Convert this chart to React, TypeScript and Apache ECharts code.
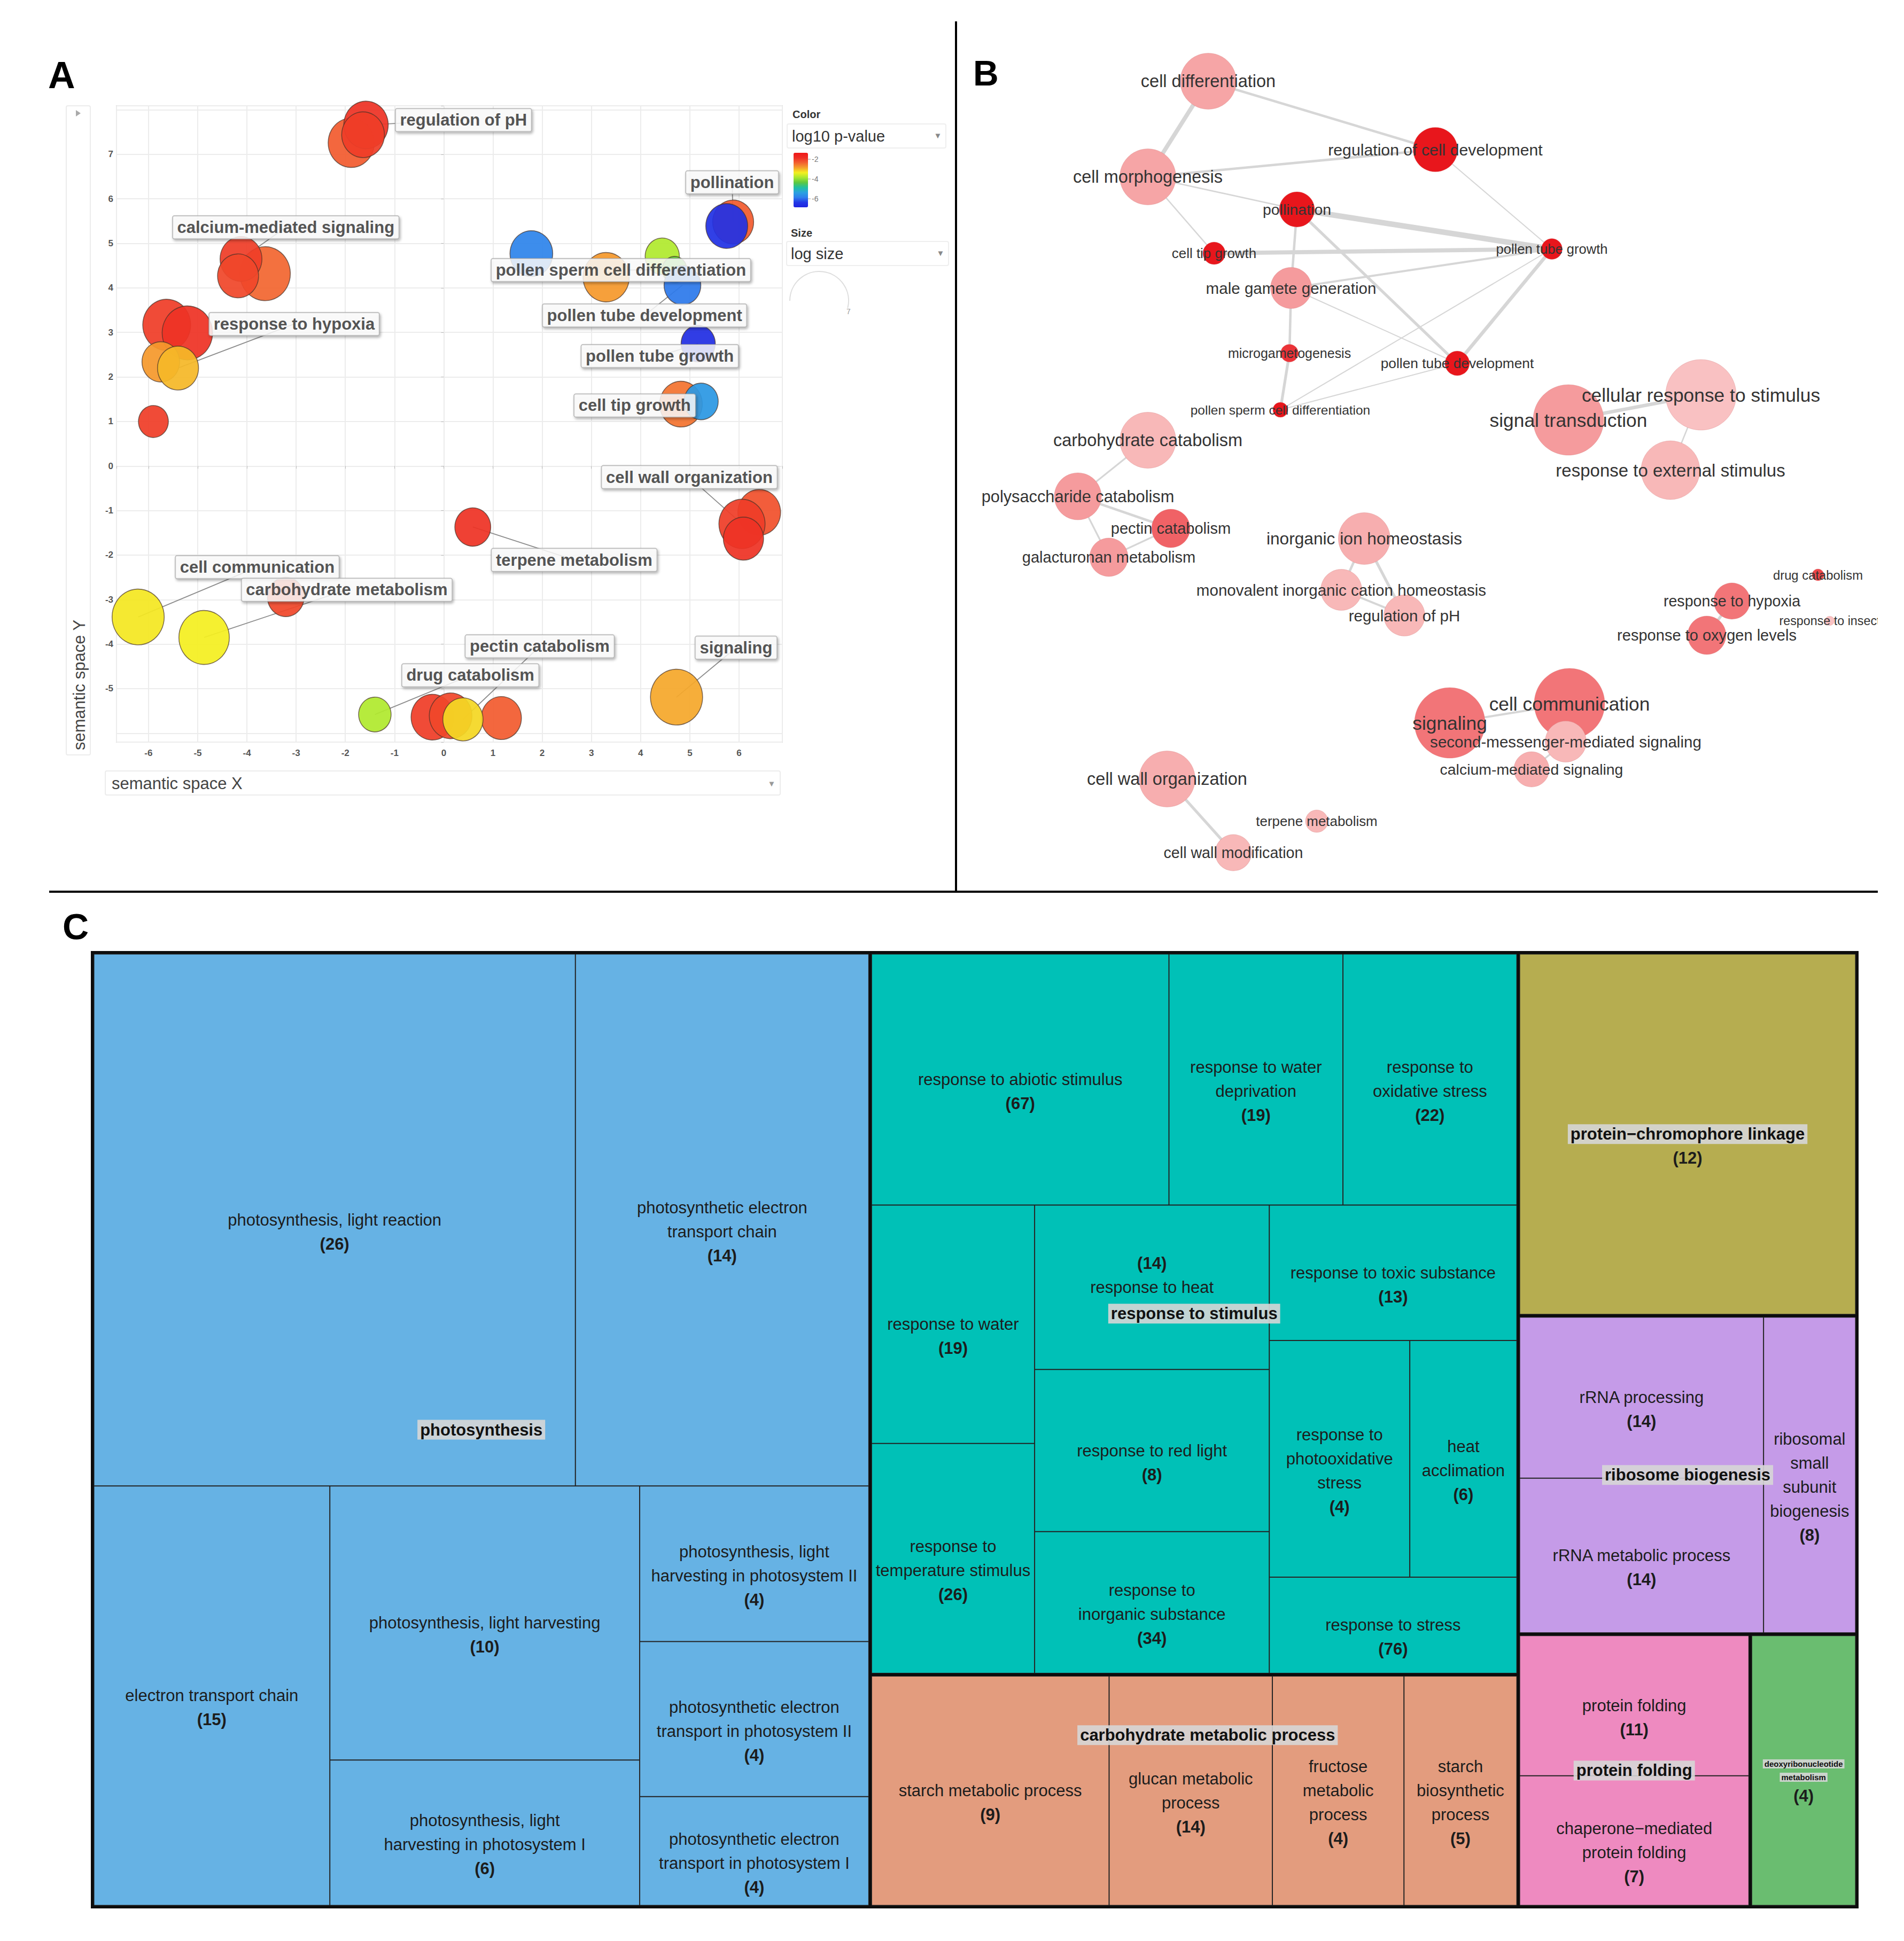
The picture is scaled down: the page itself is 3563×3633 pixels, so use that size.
import React, { useEffect, useRef } from "react";
import * as echarts from "echarts";

// ================= Panel A : REVIGO semantic scatter =================
const bubbleX = [-1.88, -1.58, -1.64, 5.88, 5.75, -3.63, -4.12, -4.18, 1.78, 3.3, 4.44, 4.69, 4.85, 5.17, 4.82, 5.23, -5.63, -5.21, -5.75, -5.4, -5.9, 6.41, 6.06, 6.09, 0.59, -3.21, -6.21, -4.87, 4.73, -1.4, 1.17, -0.23, 0.14, 0.39];
const bubbleY = [7.26, 7.66, 7.44, 5.48, 5.39, 4.32, 4.65, 4.27, 4.77, 4.24, 4.71, 4.41, 4.06, 2.75, 1.39, 1.45, 3.17, 2.99, 2.34, 2.2, 1.0, -1.04, -1.3, -1.63, -1.37, -2.94, -3.39, -3.85, -5.19, -5.58, -5.66, -5.64, -5.61, -5.69];
const bubbleLogP = [-2.3, -1.9, -2.0, -2.3, -6.5, -2.4, -2.0, -2.1, -5.8, -2.8, -3.8, -4.3, -5.9, -6.6, -2.5, -5.5, -2.0, -1.9, -2.8, -3.0, -2.0, -2.2, -2.0, -1.9, -1.9, -2.1, -3.3, -3.35, -2.9, -3.8, -2.3, -2.0, -2.1, -3.2];
const bubbleLogSize = [2.7, 2.6, 2.5, 2.4, 2.45, 2.95, 2.45, 2.4, 2.5, 2.7, 2.0, 1.45, 2.15, 2.0, 2.5, 2.0, 2.8, 2.95, 2.2, 2.4, 1.75, 2.5, 2.7, 2.35, 2.1, 2.15, 3.05, 2.95, 3.05, 1.9, 2.35, 2.5, 2.5, 2.35];

const labelNames = ["regulation of pH", "pollination", "calcium-mediated signaling", "pollen sperm cell differentiation", "response to hypoxia", "pollen tube development", "pollen tube growth", "cell tip growth", "cell wall organization", "terpene metabolism", "cell communication", "carbohydrate metabolism", "pectin catabolism", "drug catabolism", "signaling"];
const labelX = [0.4, 5.86, -3.21, 3.6, -3.04, 4.08, 4.39, 3.88, 4.99, 2.65, -3.79, -1.97, 1.95, 0.54, 5.94];
const labelY = [7.77, 6.37, 5.36, 4.4, 3.19, 3.38, 2.47, 1.36, -0.25, -2.11, -2.27, -2.78, -4.05, -4.7, -4.08];
const labelTarget = [1, 3, 6, 11, 19, 12, 13, 15, 22, 24, 26, 27, 33, 29, 28];

const colorTicks = [-2, -4, -6];

// ================= Panel B : similarity network =================
const nodeNames = ["cell differentiation", "regulation of cell development", "cell morphogenesis", "pollination", "cell tip growth", "pollen tube growth", "male gamete generation", "microgametogenesis", "pollen tube development", "pollen sperm cell differentiation", "cellular response to stimulus", "signal transduction", "response to external stimulus", "carbohydrate catabolism", "polysaccharide catabolism", "pectin catabolism", "galacturonan metabolism", "inorganic ion homeostasis", "monovalent inorganic cation homeostasis", "regulation of pH", "drug catabolism", "response to hypoxia", "response to insect", "response to oxygen levels", "signaling", "cell communication", "second-messenger-mediated signaling", "calcium-mediated signaling", "cell wall organization", "terpene metabolism", "cell wall modification"];
const nodeX = [461, 886, 348, 627, 472, 1104, 616, 613, 927, 596, 1383, 1135, 1326, 348, 217, 391, 275, 753, 710, 828, 1602, 1441, 1624, 1394, 913, 1137, 1130, 1066, 384, 664, 508];
const nodeY = [152, 280, 331, 392, 474, 466, 539, 661, 680, 767, 739, 786, 880, 824, 929, 989, 1043, 1008, 1104, 1152, 1076, 1125, 1162, 1189, 1353, 1317, 1388, 1440, 1458, 1537, 1596];
const nodeLogSize = [3.18, 2.52, 3.18, 2.0, 1.27, 1.18, 2.33, 1.0, 1.39, 0.85, 4.0, 4.0, 3.33, 3.18, 2.67, 2.18, 2.18, 2.94, 2.33, 2.33, 0.67, 2.06, 0.52, 2.18, 4.0, 4.0, 2.33, 2.0, 3.18, 1.27, 2.06];
const nodeSignificance = [0.25, 1, 0.25, 1, 1, 1, 0.3, 0.85, 1, 1, 0.1, 0.3, 0.15, 0.15, 0.3, 0.6, 0.3, 0.2, 0.15, 0.15, 0.75, 0.5, 0.1, 0.5, 0.5, 0.5, 0.15, 0.2, 0.2, 0.15, 0.15];

const edgeSource = ["cell differentiation", "cell differentiation", "cell morphogenesis", "cell morphogenesis", "cell morphogenesis", "regulation of cell development", "pollination", "pollination", "pollination", "cell tip growth", "male gamete generation", "male gamete generation", "male gamete generation", "pollen tube growth", "pollen tube growth", "microgametogenesis", "pollen sperm cell differentiation", "signal transduction", "cellular response to stimulus", "carbohydrate catabolism", "polysaccharide catabolism", "polysaccharide catabolism", "pectin catabolism", "inorganic ion homeostasis", "inorganic ion homeostasis", "monovalent inorganic cation homeostasis", "cell wall organization", "response to hypoxia", "cell communication", "second-messenger-mediated signaling", "signaling"];
const edgeTarget = ["cell morphogenesis", "regulation of cell development", "regulation of cell development", "pollination", "cell tip growth", "pollen tube growth", "pollen tube growth", "male gamete generation", "pollen tube development", "pollen tube growth", "pollen tube growth", "microgametogenesis", "pollen tube development", "pollen tube development", "pollen sperm cell differentiation", "pollen sperm cell differentiation", "pollen tube development", "cellular response to stimulus", "response to external stimulus", "polysaccharide catabolism", "pectin catabolism", "galacturonan metabolism", "galacturonan metabolism", "monovalent inorganic cation homeostasis", "regulation of pH", "regulation of pH", "cell wall modification", "response to oxygen levels", "second-messenger-mediated signaling", "calcium-mediated signaling", "cell communication"];
const edgeWeight = [6, 3.5, 3.5, 2, 2, 1.5, 8, 3.5, 4, 6, 3, 3.5, 1.5, 5, 1.5, 4, 1.5, 5, 2, 2.5, 3.5, 2.5, 2.5, 3.5, 4, 3, 4, 4, 2, 2.5, 3];

// ================= Panel C : treemap =================
const groupNames = ["photosynthesis", "response to stimulus", "carbohydrate metabolic process", "protein\u2212chromophore linkage", "ribosome biogenesis", "protein folding", "deoxyribonucleotide\nmetabolism"];
const leafNames = [
  "photosynthesis, light reaction", "photosynthetic electron\ntransport chain", "electron transport chain", "photosynthesis, light harvesting",
  "photosynthesis, light\nharvesting in photosystem I", "photosynthesis, light\nharvesting in photosystem II", "photosynthetic electron\ntransport in photosystem II", "photosynthetic electron\ntransport in photosystem I",
  "response to abiotic stimulus", "response to water\ndeprivation", "response to\noxidative stress", "response to water", "response to\ntemperature stimulus",
  "response to heat", "response to red light", "response to\ninorganic substance", "response to toxic substance", "response to\nphotooxidative\nstress", "heat\nacclimation", "response to stress",
  "starch metabolic process", "glucan metabolic\nprocess", "fructose\nmetabolic\nprocess", "starch\nbiosynthetic\nprocess",
  "protein\u2212chromophore linkage",
  "rRNA processing", "rRNA metabolic process", "ribosomal\nsmall\nsubunit\nbiogenesis",
  "protein folding", "chaperone\u2212mediated\nprotein folding",
  "deoxyribonucleotide\nmetabolism",
];
const leafCounts = [26, 14, 15, 10, 6, 4, 4, 4, 67, 19, 22, 19, 26, 14, 8, 34, 13, 4, 6, 76, 9, 14, 4, 5, 12, 14, 14, 8, 11, 7, 4];
const leafValues = [907.8, 553.1, 350.8, 300.8, 159.7, 126.3, 125.9, 88.4, 265, 155, 155, 138, 133, 137, 135, 118, 119, 118, 90, 84.5, 195, 134, 108, 92.7, 433.1, 140.6, 135.1, 104.1, 115.7, 107.0, 102.4];
const leafGroup = [0, 0, 0, 0, 0, 0, 0, 0, 1, 1, 1, 1, 1, 1, 1, 1, 1, 1, 1, 1, 2, 2, 2, 2, 3, 4, 4, 4, 5, 5, 6];

// nesting of the treemap: numbers are leaf indices, g marks a GO group
type TNode = number | { g?: number; kids: TNode[] };
const treeShape: TNode[] = [
  { g: 0, kids: [{ kids: [0, 1] }, { kids: [2, { kids: [3, 4] }, { kids: [5, 6, 7] }] }] },
  {
    kids: [
      {
        kids: [
          { g: 1, kids: [{ kids: [8, 9, 10] }, { kids: [{ kids: [11, 12] }, { kids: [{ kids: [13, 14, 15] }, { kids: [16, { kids: [17, 18] }, 19] }] }] }] },
          { g: 2, kids: [20, 21, 22, 23] },
        ],
      },
      {
        kids: [
          { g: 3, kids: [24] },
          { g: 4, kids: [{ kids: [25, 26] }, 27] },
          { kids: [{ g: 5, kids: [28, 29] }, { g: 6, kids: [30] }] },
        ],
      },
    ],
  },
];

// ================= styles =================
const FONT = "'Liberation Sans', Arial, Helvetica, sans-serif";
const GROUP_COLORS = ["#66b2e4", "#00c1b7", "#e39c7e", "#b6ad50", "#c59be8", "#ee8ac0", "#6abd70"];
const GROUP_LABEL_SMALL = [false, false, false, false, false, false, true];
const GROUP_LABEL_SHIFT: Record<number, [number, number]> = { 2: [25, -104] };
const COUNT_ABOVE = new Set([13]);
const LH = 45;
const LH_SMALL = 25;
const LH_GROUP = 40;
const VM_MIN = -6.86;
const VM_MAX = -1.35;
const VM_TOP = 286;
const VM_H = 102;

function mixColor(t: number) {
  const a = [251, 212, 212];
  const b = [232, 22, 28];
  const c = a.map((v, i) => Math.round(v + (b[i] - v) * t));
  return `rgb(${c[0]},${c[1]},${c[2]})`;
}

function sumLeaves(t: TNode): number {
  if (typeof t === "number") return leafValues[t];
  return t.kids.reduce((s, k) => s + sumLeaves(k), 0);
}

function leafItem(i: number) {
  const g = leafGroup[i];
  const lines = leafNames[i].split("\n");
  const k = lines.length;
  const groupSize = leafGroup.filter((x) => x === g).length;
  const hidden = leafNames[i] === groupNames[g] && groupSize === 1;
  const small = hidden && GROUP_LABEL_SMALL[g];
  const st = hidden ? (small ? "ns" : "nh") : "n";
  const lh = small ? LH_SMALL : LH;
  let text: string;
  let dy: number;
  if (COUNT_ABOVE.has(i)) {
    text = `{c|(${leafCounts[i]})}\n` + lines.map((l) => `{${st}|${l}}`).join("\n");
    dy = -(LH + (k * lh) / 2);
  } else {
    text = lines.map((l) => `{${st}|${l}}`).join("\n") + `\n{c|(${leafCounts[i]})}`;
    dy = -(k * lh) / 2;
  }
  return {
    name: leafNames[i].replace(/\n/g, " "),
    value: leafValues[i],
    itemStyle: { color: GROUP_COLORS[g], borderColor: "#262626", borderWidth: 1, gapWidth: 0 },
    label: { formatter: text, offset: [0, dy] },
  };
}

function buildLeaves(t: TNode): any {
  if (typeof t === "number") return leafItem(t);
  const children = t.kids.map(buildLeaves);
  const value = sumLeaves(t);
  if (t.g != null) {
    return { name: groupNames[t.g].replace(/\n/g, " "), value, children, itemStyle: { color: GROUP_COLORS[t.g], borderColor: "#0d0d0d", borderWidth: 2.5, gapWidth: 0 } };
  }
  return { name: "", value, children, itemStyle: { color: "#0d0d0d", borderColor: "#0d0d0d", borderWidth: 0, gapWidth: 0 } };
}

function buildGroups(t: TNode): any {
  if (typeof t === "number") return null;
  const value = sumLeaves(t);
  if (t.g != null) {
    const lines = groupNames[t.g].split("\n");
    const small = GROUP_LABEL_SMALL[t.g];
    const st = small ? "gs" : "g";
    const lh = small ? LH_SMALL : LH_GROUP;
    const shift = GROUP_LABEL_SHIFT[t.g] || [0, 0];
    return {
      name: groupNames[t.g].replace(/\n/g, " "),
      value,
      itemStyle: { color: "rgba(0,0,0,0)", borderColor: "rgba(0,0,0,0)", borderWidth: 0 },
      label: { formatter: lines.map((l) => `{${st}|${l}}`).join("\n"), offset: [shift[0], shift[1] - (lines.length * lh) / 2] },
    };
  }
  return { name: "", value, children: t.kids.map(buildGroups), itemStyle: { color: "rgba(0,0,0,0)", borderColor: "rgba(0,0,0,0)", borderWidth: 0, gapWidth: 0 } };
}

function vmY(v: number) {
  return VM_TOP + ((VM_MAX - v) / (VM_MAX - VM_MIN)) * VM_H;
}

function buildOption(): any {
  const bubbleData = bubbleX.map((x, i) => [x, bubbleY[i], bubbleLogP[i], bubbleLogSize[i]]);

  const graphNodes = nodeNames.map((n, i) => {
    const d = nodeLogSize[i] * 33;
    return {
      name: n,
      value: [nodeX[i], nodeY[i]],
      symbolSize: d,
      itemStyle: { color: mixColor(nodeSignificance[i]), borderColor: "rgba(210,120,120,0.35)", borderWidth: 1 },
      label: { fontSize: 21.5 + 0.105 * d },
    };
  });
  const graphLinks = edgeSource.map((s, i) => ({ source: s, target: edgeTarget[i], lineStyle: { width: edgeWeight[i] * 1.3 } }));

  const graphic: any[] = [
    // panel letters
    { type: "text", x: 90, y: 141, style: { text: "A", font: `bold 70px ${FONT}`, fill: "#000", textVerticalAlign: "middle" } },
    { type: "text", x: 1821, y: 137, style: { text: "B", font: `bold 66px ${FONT}`, fill: "#000", textVerticalAlign: "middle" } },
    { type: "text", x: 117, y: 1734, style: { text: "C", font: `bold 68px ${FONT}`, fill: "#000", textVerticalAlign: "middle" } },
    // dividers
    { type: "line", shape: { x1: 1789, y1: 40, x2: 1789, y2: 1669 }, style: { stroke: "#000", lineWidth: 4 } },
    { type: "line", shape: { x1: 92, y1: 1669, x2: 3514, y2: 1669 }, style: { stroke: "#000", lineWidth: 4 } },
    // axis title boxes
    { type: "rect", shape: { x: 124, y: 198, width: 45, height: 1215, r: 3 }, style: { fill: "none", stroke: "#ececec", lineWidth: 2 } },
    { type: "polygon", shape: { points: [[142, 206], [142, 218], [151, 212]] }, style: { fill: "#aaaaaa" } },
    { type: "text", x: 148, y: 1404, rotation: Math.PI / 2, style: { text: "semantic space Y", font: `31px ${FONT}`, fill: "#444", textAlign: "left", textVerticalAlign: "middle" } },
    { type: "rect", shape: { x: 197, y: 1443, width: 1263, height: 45, r: 3 }, style: { fill: "none", stroke: "#ececec", lineWidth: 2 } },
    { type: "text", x: 209, y: 1466, style: { text: "semantic space X", font: `31px ${FONT}`, fill: "#444", textVerticalAlign: "middle" } },
    { type: "text", x: 1444, y: 1466, style: { text: "\u25BC", font: `15px ${FONT}`, fill: "#999", textAlign: "center", textVerticalAlign: "middle" } },
    // legend
    { type: "text", x: 1483, y: 214, style: { text: "Color", font: `bold 20px ${FONT}`, fill: "#333", textVerticalAlign: "middle" } },
    { type: "rect", shape: { x: 1473, y: 232, width: 297, height: 45, r: 3 }, style: { fill: "none", stroke: "#eeeeee", lineWidth: 2 } },
    { type: "text", x: 1482, y: 255, style: { text: "log10 p-value", font: `29px ${FONT}`, fill: "#333", textVerticalAlign: "middle" } },
    { type: "text", x: 1755, y: 253, style: { text: "\u25BC", font: `15px ${FONT}`, fill: "#888", textAlign: "center", textVerticalAlign: "middle" } },
    { type: "text", x: 1480, y: 436, style: { text: "Size", font: `bold 20px ${FONT}`, fill: "#333", textVerticalAlign: "middle" } },
    { type: "rect", shape: { x: 1472, y: 452, width: 303, height: 45, r: 3 }, style: { fill: "none", stroke: "#eeeeee", lineWidth: 2 } },
    { type: "text", x: 1480, y: 475, style: { text: "log size", font: `29px ${FONT}`, fill: "#333", textVerticalAlign: "middle" } },
    { type: "text", x: 1760, y: 473, style: { text: "\u25BC", font: `15px ${FONT}`, fill: "#888", textAlign: "center", textVerticalAlign: "middle" } },
    { type: "arc", shape: { cx: 1533, cy: 563, r: 55, startAngle: Math.PI, endAngle: Math.PI * 2 + 0.25 }, style: { stroke: "#dddddd", lineWidth: 2, fill: "none" } },
    { type: "text", x: 1588, y: 583, style: { text: "7", font: `14px ${FONT}`, fill: "#999", textAlign: "center", textVerticalAlign: "middle" } },
    // clip of the truncated network label
    { type: "rect", shape: { x: 3514, y: 1135, width: 49, height: 55 }, style: { fill: "#fff" }, z: 100 },
  ];
  colorTicks.forEach((v) => {
    const y = vmY(v);
    graphic.push({ type: "line", shape: { x1: 1512, y1: y, x2: 1517, y2: y }, style: { stroke: "#999", lineWidth: 1 } });
    graphic.push({ type: "text", x: 1519, y, style: { text: String(v), font: `14px ${FONT}`, fill: "#777", textVerticalAlign: "middle" } });
  });

  const axisLabelA = { fontSize: 17, fontWeight: "bold", color: "#555", fontFamily: FONT };

  return {
    animation: false,
    backgroundColor: "#ffffff",
    textStyle: { fontFamily: FONT },
    grid: [
      { left: 218, top: 198, width: 1246, height: 1191, show: true, borderColor: "#d6d6d6", borderWidth: 2, backgroundColor: "#fff" },
      { left: 1800, top: 0, width: 1763, height: 1700, show: false },
    ],
    xAxis: [
      {
        gridIndex: 0, type: "value", min: -6.65, max: 6.88, splitNumber: 13,
        axisLine: { show: false }, axisTick: { show: true, length: 5, lineStyle: { color: "#bbb" } },
        axisLabel: { ...axisLabelA, margin: 12, formatter: (v: number) => (Number.isInteger(v) && v >= -6 && v <= 6 ? String(v) : "") },
        splitLine: { show: true, lineStyle: { color: "#ececec", width: 2 } },
      },
      { gridIndex: 1, type: "value", min: 0, max: 1763, show: false },
    ],
    yAxis: [
      {
        gridIndex: 0, type: "value", min: -6.2, max: 8.09, splitNumber: 14,
        axisLine: { show: false }, axisTick: { show: true, length: 5, lineStyle: { color: "#bbb" } },
        axisLabel: { ...axisLabelA, margin: 6, formatter: (v: number) => (Number.isInteger(v) && v >= -5 && v <= 7 ? String(v) : "") },
        splitLine: { show: true, lineStyle: { color: "#ececec", width: 2 } },
      },
      { gridIndex: 1, type: "value", min: 0, max: 1700, inverse: true, show: false },
    ],
    visualMap: [
      {
        type: "continuous", show: true, seriesIndex: 0, dimension: 2, min: VM_MIN, max: VM_MAX,
        left: 1485, top: VM_TOP, itemWidth: 27, itemHeight: VM_H, calculable: false, padding: 0, text: null,
        inRange: { color: ["#1f24e0", "#2238e6", "#2e80ec", "#2aa2e0", "#20c0a0", "#5cc840", "#a8e830", "#f4f020", "#f5a02c", "#f26030", "#ee2e24", "#f01818"] },
      },
    ],
    graphic,
    series: [
      {
        type: "scatter", name: "GO terms", xAxisIndex: 0, yAxisIndex: 0, z: 3, clip: false,
        data: bubbleData,
        symbolSize: (v: number[]) => [v[3] * 32, v[3] * 32 * 1.07],
        itemStyle: { borderColor: "rgba(70,50,40,0.75)", borderWidth: 1.6, opacity: 0.93 },
        silent: true,
      },
      {
        type: "lines", coordinateSystem: "cartesian2d", xAxisIndex: 0, yAxisIndex: 0, z: 2, silent: true,
        data: labelNames.map((n, i) => ({ coords: [[labelX[i], labelY[i]], [bubbleX[labelTarget[i]], bubbleY[labelTarget[i]]]] })),
        lineStyle: { color: "#8c8c8c", width: 1.8, opacity: 1, curveness: 0 },
      },
      {
        type: "scatter", name: "labels", xAxisIndex: 0, yAxisIndex: 0, z: 6, silent: true, symbolSize: 1,
        itemStyle: { color: "rgba(0,0,0,0)" },
        data: labelNames.map((n, i) => ({ name: n, value: [labelX[i], labelY[i]] })),
        label: {
          show: true, position: "inside", formatter: "{b}", fontSize: 31, fontWeight: "bold", color: "#262626", fontFamily: FONT,
          backgroundColor: "#ffffff", borderColor: "#a6a6a6", borderWidth: 1.5, borderRadius: 3, padding: [6, 8, 5, 8],
          shadowColor: "rgba(0,0,0,0.35)", shadowBlur: 5, shadowOffsetX: 2, shadowOffsetY: 3,
        },
      },
      {
        type: "graph", coordinateSystem: "cartesian2d", xAxisIndex: 1, yAxisIndex: 1, z: 3, silent: true,
        data: graphNodes, links: graphLinks, roam: false,
        label: { show: true, position: "inside", color: "#333", fontFamily: FONT },
        lineStyle: { color: "#d6d6d6", opacity: 1, curveness: 0 },
        emphasis: { disabled: true },
      },
      {
        type: "treemap", left: 170, top: 1780, width: 3308, height: 1792, z: 2,
        roam: false, nodeClick: false, breadcrumb: { show: false }, sort: false, squareRatio: 0.8, silent: true,
        levels: [{ itemStyle: { borderWidth: 3, borderColor: "#0d0d0d", gapWidth: 0 } }],
        label: {
          show: true, position: "inside", align: "center", verticalAlign: "top", overflow: "none", padding: 0, color: "#1c1c1c", fontFamily: FONT,
          rich: {
            n: { fontSize: 31, lineHeight: LH, color: "#1c1c1c", fontFamily: FONT, align: "center" },
            nh: { fontSize: 31, lineHeight: LH, color: "rgba(0,0,0,0)", fontFamily: FONT, align: "center" },
            ns: { fontSize: 15, lineHeight: LH_SMALL, color: "rgba(0,0,0,0)", fontFamily: FONT, align: "center" },
            c: { fontSize: 31, lineHeight: LH, fontWeight: "bold", color: "#1c1c1c", fontFamily: FONT, align: "center" },
          },
        },
        data: treeShape.map(buildLeaves),
      },
      {
        type: "treemap", left: 170, top: 1780, width: 3308, height: 1792, z: 4,
        roam: false, nodeClick: false, breadcrumb: { show: false }, sort: false, squareRatio: 0.8, silent: true,
        levels: [{ itemStyle: { borderWidth: 3, borderColor: "rgba(0,0,0,0)", color: "rgba(0,0,0,0)", gapWidth: 0 } }],
        label: {
          show: true, position: "inside", align: "center", verticalAlign: "top", overflow: "none", padding: 0, fontFamily: FONT,
          rich: {
            g: { fontSize: 31, fontWeight: "bold", color: "#111", backgroundColor: "rgba(214,214,214,0.9)", padding: [3, 5], lineHeight: LH_GROUP, fontFamily: FONT, align: "center" },
            gs: { fontSize: 15, fontWeight: "bold", color: "#111", backgroundColor: "rgba(214,214,214,0.9)", padding: [1, 3], lineHeight: LH_SMALL, fontFamily: FONT, align: "center" },
          },
        },
        data: treeShape.map(buildGroups),
      },
    ],
  };
}

export default function App() {
  const ref = useRef<HTMLDivElement>(null);
  useEffect(() => {
    document.body.style.margin = "0";
    if (!ref.current) return;
    const chart = echarts.init(ref.current, undefined, { renderer: "svg" });
    chart.setOption(buildOption());
    return () => chart.dispose();
  }, []);
  return <div ref={ref} style={{ width: 3563, height: 3633, background: "#fff" }} />;
}
